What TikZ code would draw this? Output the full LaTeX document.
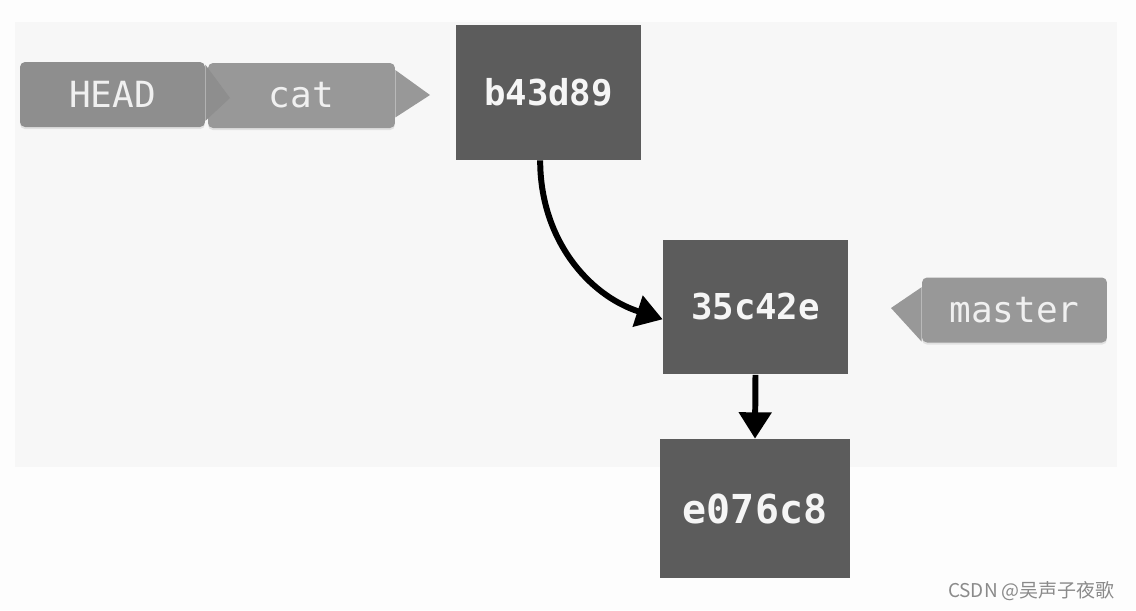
\documentclass[tikz,border=0pt]{standalone}
\usepackage{fontspec}
\setmonofont{DejaVu Sans Mono}
\newfontfamily\cjk{Noto Sans CJK SC}
\usetikzlibrary{arrows.meta,shadows}

\definecolor{pagebg}{HTML}{FDFDFD}
\definecolor{panelbg}{HTML}{F7F7F7}
\definecolor{commitgray}{HTML}{5C5C5C}
\definecolor{headgray}{HTML}{8E8E8E}
\definecolor{branchgray}{HTML}{989898}
\definecolor{marktext}{HTML}{8A8A8A}

\tikzset{
  commit/.style={fill=commitgray, draw=none, text=white!96!black,
    minimum width=3.7cm, minimum height=2.7cm, inner sep=0pt,
    font=\ttfamily\bfseries\fontsize{20.3}{24}\selectfont},
  tag/.style={fill=#1, rounded corners=0.1cm, text=white!94!black,
    minimum width=3.7cm, minimum height=1.3cm, inner sep=0pt,
    drop shadow={opacity=0.18, shadow xshift=0pt, shadow yshift=-1.2pt},
    font=\ttfamily\fontsize{20.5}{24}\selectfont},
  tag/.default=branchgray,
  link/.style={line width=3.4pt, -{Triangle[width=18pt,length=15pt]}}
}

\begin{document}
\begin{tikzpicture}[x=0.02cm, y=-0.02cm]
\useasboundingbox (0,0) rectangle (1136,610);
\fill[pagebg] (0,0) rectangle (1136,610);
\fill[panelbg] (15,22) rectangle (1117,467);

% commits
\node[commit] (c1) at (548.5,92.5) {b43d89};
\node[commit] (c2) at (755.5,307) {35c42e};
\node[commit, minimum width=3.8cm, minimum height=2.78cm,
  font=\ttfamily\bfseries\fontsize{22.7}{26}\selectfont] (c3) at (755,508.5) {e076c8};

% branch labels (cat first, HEAD pointer sits on top of it)
\node[tag, minimum width=3.74cm] (cat) at (301.5,95.5) {cat};
\fill[branchgray] ([yshift=-12.5]cat.east) -- (430,95) -- ([yshift=14.5]cat.east) -- cycle;
\node[tag=headgray] (head) at (112.5,94.5) {HEAD};
\fill[headgray] ([yshift=-15]head.east) -- (230,98) -- ([yshift=17]head.east) -- cycle;
\node[tag] (master) at (1014.5,310) {master};
\fill[branchgray] ([yshift=-18]master.west) -- (891,308) -- ([yshift=13]master.west) -- cycle;

% parent links
\draw[link] (c1.-97) to[out=-90, in=162] ([yshift=-7]c2.west);
\draw[link] (c2.south) -- (c3.north);

\node[anchor=east, text=marktext, font=\cjk\fontsize{10.8}{12}\selectfont] (mark) at (1121,591) {CSDN @吴声子夜歌};
\end{tikzpicture}
\end{document}
